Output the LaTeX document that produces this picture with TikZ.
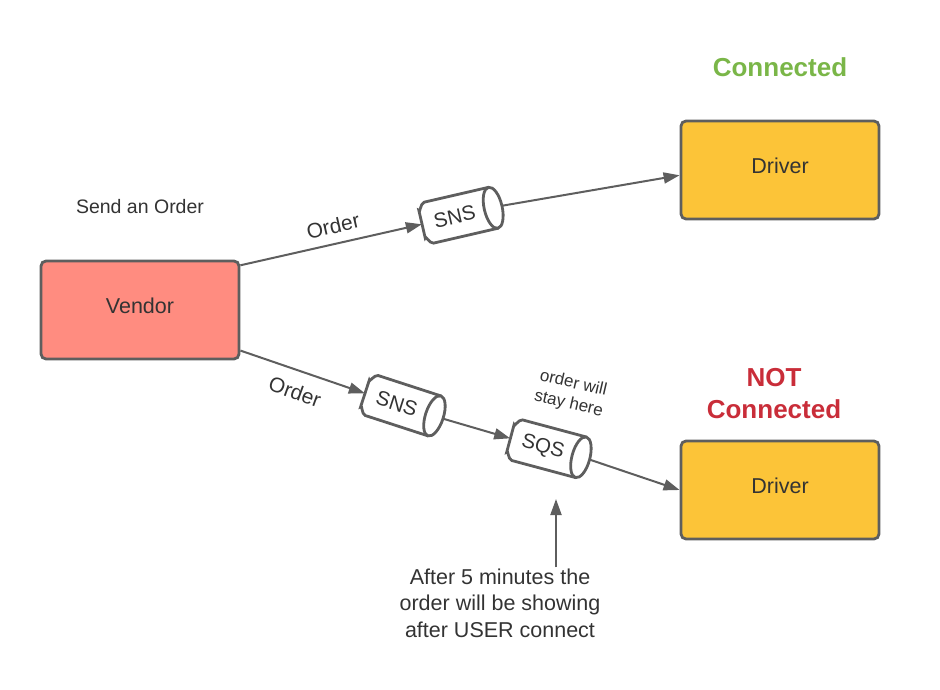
\documentclass[tikz,border=0pt]{standalone}
\usepackage{fontspec}
\setmainfont{Liberation Sans}
\usetikzlibrary{arrows.meta,calc}
\definecolor{strokeg}{HTML}{5E5E5E}
\definecolor{txtg}{HTML}{333333}
\definecolor{vendorfill}{HTML}{FF8C80}
\definecolor{driverfill}{HTML}{FCC438}
\definecolor{okgreen}{HTML}{7AB648}
\definecolor{notred}{HTML}{C92D39}
\tikzset{
  box/.style={draw=strokeg, line width=2.8pt, rounded corners=5pt,
    minimum width=198pt, minimum height=98pt, text=txtg,
    text height=16pt, text depth=8.4pt,
    font=\fontsize{21.5}{26}\selectfont},
  vendorbox/.style={box, fill=vendorfill},
  driverbox/.style={box, fill=driverfill},
  cyltext/.style={minimum width=82pt, minimum height=42pt, inner sep=0pt,
    text=txtg, font=\fontsize{20.5}{24}\selectfont},
  conn/.style={draw=strokeg, line width=2pt,
    -{Triangle[length=16pt,width=11pt]}},
  plainlbl/.style={text=txtg, inner sep=1pt},
  status/.style={font=\bfseries\fontsize{26}{32}\selectfont, inner sep=1pt},
  cyl/.pic={
    \filldraw[fill=white, draw=strokeg, line width=2.8pt]
      (32,-21) -- (-34,-21) to[out=180,in=-90] (-41,-14) -- (-41,14)
      to[out=90,in=180] (-34,21) -- (32,21);
    \filldraw[fill=white, draw=strokeg, line width=2.8pt]
      (32,0) ellipse [x radius=9pt, y radius=21pt];
  }
}
\begin{document}
\begin{tikzpicture}[x=1pt,y=-1pt]
\useasboundingbox (0,0) rectangle (940,690);

% main boxes
\node[vendorbox] (vendor) at (140,310) {Vendor};
\node[driverbox] (driver1) at (780,170) {Driver};
\node[driverbox] (driver2) at (780,490) {Driver};

% status labels
\node[status, text=okgreen] (conn) at (780,67) {Connected};
\node[status, text=notred, align=center] (notconn) at (774,394)
  {\fontsize{26}{32}\selectfont NOT\\Connected};

% cylinders
\pic[rotate=13] at (462,215) {cyl};
\node[cyltext, rotate=13] (sns1) at (462,215) {SNS\hspace*{15pt}};
\pic[rotate=-18] at (404,406) {cyl};
\node[cyltext, rotate=-18] (sns2) at (404,406) {SNS\hspace*{15pt}};
\pic[rotate=-15] at (550,449) {cyl};
\node[cyltext, rotate=-15] (sqs) at (550,449) {SQS\hspace*{15pt}};

% labels
\node[plainlbl, font=\fontsize{19.5}{24}\selectfont] (send) at (140,207) {Send an Order};
\node[plainlbl, rotate=13, font=\fontsize{21}{25}\selectfont] (order1) at (333,226) {Order};
\node[plainlbl, rotate=-20, font=\fontsize{21}{25}\selectfont] (order2) at (295,392) {Order};
\node[plainlbl, rotate=-13, align=center, font=\fontsize{17}{21}\selectfont] (stay) at (571,394) {order will\\stay here};
\node[plainlbl, align=center, font=\fontsize{21.5}{26.5}\selectfont] (note) at (500,603)
  {After 5 minutes the\\order will be showing\\after USER connect};

% connectors
\draw[conn] (vendor.24) -- (sns1.west);
\draw[conn] (sns1.east) -- (driver1.-177);
\draw[conn] (vendor.-22) -- (sns2.west);
\draw[conn] (sns2.east) -- (sqs.west);
\draw[conn] (sqs.east) -- (driver2.west);
\coordinate (uptip) at (556,499);
\draw[conn] (note.north -| uptip) -- (uptip);
\end{tikzpicture}
\end{document}
